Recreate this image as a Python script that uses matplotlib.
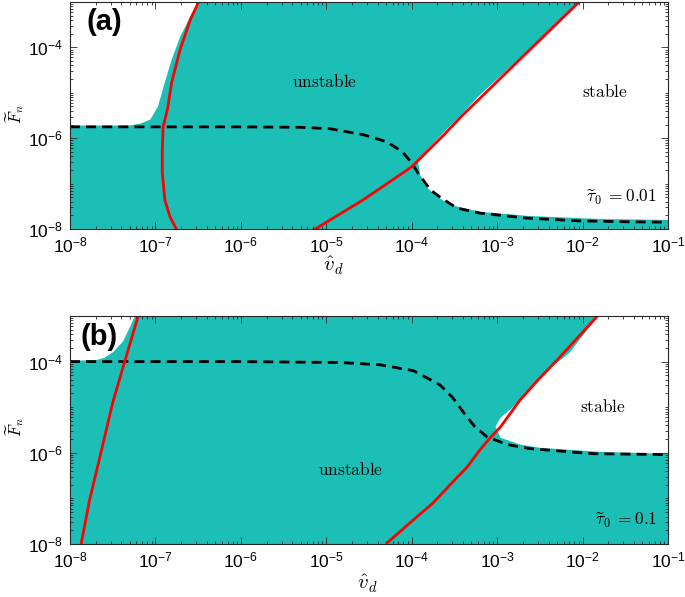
import numpy as np
import matplotlib
matplotlib.use('Agg')
import matplotlib.pyplot as plt
from matplotlib.ticker import FixedLocator, LogLocator, NullFormatter

plt.rcParams['font.family'] = ['Liberation Sans', 'DejaVu Sans']
plt.rcParams['mathtext.fontset'] = 'cm'

teal = '#1bbfb5'
frame = '#262626'

# all values are log10
XLIM = (-8, -1)
YLIM = (-8, -3)

# ---- panel (a): tau0 = 0.01
a_dash_x = [-8, -6.0, -5.3, -4.96, -4.57, -4.29, -4.11, -4.0, -3.93, -3.78, -3.66, -3.47, -3.2, -2.65, -2.06, -1.5, -1.0]
a_dash_y = [-5.75, -5.75, -5.76, -5.79, -5.92, -6.08, -6.30, -6.54, -6.76, -7.14, -7.31, -7.54, -7.65, -7.76, -7.82, -7.84, -7.85]

a_red1_x = [-6.48, -6.59, -6.71, -6.81, -6.86, -6.91, -6.92, -6.92, -6.89, -6.83, -6.75]
a_red1_y = [-2.94, -3.38, -4.04, -4.77, -5.37, -5.75, -6.25, -6.76, -7.36, -7.73, -8.02]

a_red2_x = [-5.13, -4.57, -4.0, -3.63, -3.43, -2.65, -2.03]
a_red2_y = [-8.0, -7.36, -6.63, -5.94, -5.54, -4.11, -2.98]

# stable (white) regions
a_tl_x = [-8, -7.3, -7.18, -7.06, -6.97, -6.89, -6.81, -6.71, -6.59, -6.51, -6.49]
a_tl_y = [-5.72, -5.72, -5.68, -5.59, -5.30, -4.77, -4.27, -3.76, -3.31, -3.05, -3.0]

a_st_x = [-2.03, -2.65, -3.22, -3.43, -3.63, -3.84, -3.93, -3.90, -3.82, -3.70, -3.55, -3.20, -2.65, -1.79, -1.0]
a_st_y = [-3.0, -4.09, -5.08, -5.50, -5.88, -6.30, -6.48, -6.81, -7.09, -7.29, -7.47, -7.62, -7.71, -7.78, -7.80]

# ---- panel (b): tau0 = 0.1
b_dash_x = [-8, -6.04, -4.84, -4.37, -3.98, -3.67, -3.52, -3.40, -3.26, -3.12, -2.88, -2.61, -1.88, -1.0]
b_dash_y = [-4.0, -4.0, -4.02, -4.07, -4.20, -4.51, -4.79, -5.10, -5.43, -5.65, -5.82, -5.91, -6.02, -6.04]

b_red1_x = [-7.20, -7.36, -7.50, -7.65, -7.77, -7.87]
b_red1_y = [-2.99, -4.0, -4.90, -6.09, -7.03, -8.0]

b_red2_x = [-4.29, -3.98, -3.75, -3.55, -3.35, -3.20, -3.08, -2.96, -2.73, -2.52, -2.26, -1.83]
b_red2_y = [-7.98, -7.47, -7.10, -6.70, -6.31, -5.93, -5.67, -5.43, -4.84, -4.40, -3.89, -3.01]

b_tl_x = [-8, -7.7, -7.6, -7.5, -7.38, -7.30, -7.24]
b_tl_y = [-3.98, -3.97, -3.92, -3.80, -3.56, -3.25, -3.0]

b_st_x = [-1.82, -2.15, -2.50, -2.61, -2.81, -2.96, -3.02, -2.96, -2.73, -2.50, -1.79, -1.0]
b_st_y = [-3.0, -3.80, -4.33, -4.62, -4.99, -5.23, -5.43, -5.67, -5.82, -5.89, -5.98, -6.02]

x_ticks = [1e-8, 1e-7, 1e-6, 1e-5, 1e-4, 1e-3, 1e-2, 1e-1]
y_ticks = [1e-8, 1e-6, 1e-4]


def p(v):
    return np.power(10.0, np.array(v, dtype=float))


fig = plt.figure(figsize=(6.85, 5.97), dpi=100)
ax_a = fig.add_axes([0.1022, 0.6164, 0.873, 0.3802])
ax_b = fig.add_axes([0.1022, 0.0888, 0.873, 0.3819])

panels = [
    (ax_a, a_dash_x, a_dash_y, a_red1_x, a_red1_y, a_red2_x, a_red2_y, a_tl_x, a_tl_y, a_st_x, a_st_y),
    (ax_b, b_dash_x, b_dash_y, b_red1_x, b_red1_y, b_red2_x, b_red2_y, b_tl_x, b_tl_y, b_st_x, b_st_y),
]

for ax, dx, dy, r1x, r1y, r2x, r2y, tlx, tly, stx, sty in panels:
    ax.set_xscale('log')
    ax.set_yscale('log')
    ax.set_xlim(p(XLIM))
    ax.set_ylim(p(YLIM))
    ax.set_facecolor(teal)

    # white (stable) patches; close them along the axes corners
    ax.fill(p(tlx + [XLIM[0]]), p(tly + [YLIM[1]]), color='white', lw=0, zorder=1)
    ax.fill(p(stx + [XLIM[1]]), p(sty + [YLIM[1]]), color='white', lw=0, zorder=1)

    ax.plot(p(dx), p(dy), color='black', lw=2, dashes=(3.6, 2.2), zorder=3)
    ax.plot(p(r1x), p(r1y), color='red', lw=2, zorder=4)
    ax.plot(p(r2x), p(r2y), color='red', lw=2, zorder=4)

    ax.xaxis.set_major_locator(FixedLocator(x_ticks))
    ax.xaxis.set_minor_locator(LogLocator(base=10, subs=np.arange(2, 10), numticks=20))
    ax.xaxis.set_minor_formatter(NullFormatter())
    ax.yaxis.set_major_locator(FixedLocator(y_ticks))
    ax.yaxis.set_minor_locator(LogLocator(base=10, subs=np.arange(1, 10), numticks=20))
    ax.yaxis.set_minor_formatter(NullFormatter())
    ax.tick_params(which='both', direction='in', top=True, right=True, color=frame, width=0.6)
    ax.tick_params(which='major', length=5, labelsize=12.5, pad=5)
    ax.tick_params(which='minor', length=2.5)
    for s in ax.spines.values():
        s.set_color(frame)
        s.set_linewidth(0.8)
        s.set_zorder(5)

    ax.set_xlabel(r'$\hat{v}_d$', fontsize=15)
    ax.set_ylabel(r'$\widetilde{F}_n$', fontsize=12)

ax_a.xaxis.set_label_coords(0.44, -0.115)
ax_a.yaxis.set_label_coords(-0.073, 0.507)
ax_b.xaxis.set_label_coords(0.497, -0.125)
ax_b.yaxis.set_label_coords(-0.073, 0.513)

ax_a.text(0.028, 0.912, '(a)', transform=ax_a.transAxes, fontsize=21, fontweight='bold', va='center', ha='left', zorder=6)
ax_a.text(0.426, 0.648, r'$\mathrm{unstable}$', transform=ax_a.transAxes, fontsize=12.5, ha='center', va='center', zorder=6)
ax_a.text(0.895, 0.604, r'$\mathrm{stable}$', transform=ax_a.transAxes, fontsize=12.5, ha='center', va='center', zorder=6)
ax_a.text(0.982, 0.137, r'$\widetilde{\tau}_0\;{=}0.01$', transform=ax_a.transAxes, fontsize=12.5, ha='right', va='center', zorder=6)

ax_b.text(0.017, 0.908, '(b)', transform=ax_b.transAxes, fontsize=21, fontweight='bold', va='center', ha='left', zorder=6)
ax_b.text(0.470, 0.325, r'$\mathrm{unstable}$', transform=ax_b.transAxes, fontsize=12.5, ha='center', va='center', zorder=6)
ax_b.text(0.891, 0.601, r'$\mathrm{stable}$', transform=ax_b.transAxes, fontsize=12.5, ha='center', va='center', zorder=6)
ax_b.text(0.982, 0.105, r'$\widetilde{\tau}_0\;{=}0.1$', transform=ax_b.transAxes, fontsize=12.5, ha='right', va='center', zorder=6)

fig.savefig('out.png', dpi=100)
